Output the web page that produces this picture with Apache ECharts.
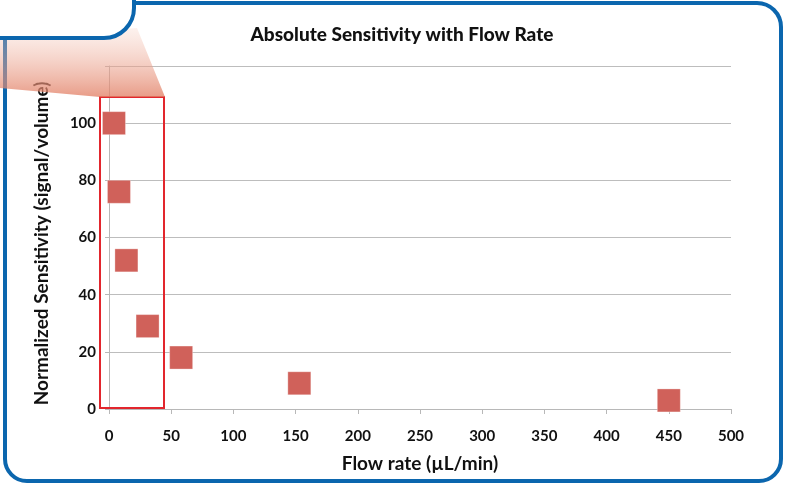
<!DOCTYPE html>
<html>
<head>
<meta charset="utf-8">
<script src="https://cdn.jsdelivr.net/npm/echarts@6/dist/echarts.min.js"></script>
<style>html,body{margin:0;padding:0;background:#fff}#c{width:785px;height:485px}</style>
</head>
<body>
<div id="c"></div>
<script>
var flowRates = [4, 8, 14, 31, 58, 153, 450];
var sensitivity = [100, 76, 52, 29, 18, 9, 3];
var xTicks = [0, 50, 100, 150, 200, 250, 300, 350, 400, 450, 500];
var yTicks = [0, 20, 40, 60, 80, 100];
var titleText = 'Absolute Sensitivity with Flow Rate';
var xName = 'Flow rate (\u00b5L/min)';
var yName = 'Normalized Sensitivity (signal/volume)';

var FONT = 'Lato';
var chart = echarts.init(document.getElementById('c'));
var points = flowRates.map(function (x, i) { return [x, sensitivity[i]]; });

chart.setOption({
  animation: false,
  backgroundColor: '#fff',
  title: {
    text: titleText, left: 397, top: 20, textAlign: 'center',
    textStyle: { fontFamily: FONT, fontWeight: 900, fontSize: 19, color: '#111' }
  },
  grid: { left: 109, right: 54, top: 66, bottom: 76, containLabel: false },
  xAxis: {
    type: 'value', min: 0, max: 500, interval: 50,
    name: xName, nameLocation: 'middle', nameGap: 45,
    nameTextStyle: { fontFamily: FONT, fontWeight: 'bold', fontSize: 19, color: '#111' },
    axisLine: { show: true, lineStyle: { color: '#b8b8b8', width: 1 } },
    axisTick: { show: true, length: 5, lineStyle: { color: '#b8b8b8' } },
    splitLine: { show: false },
    axisLabel: {
      margin: 20, fontFamily: FONT, fontWeight: 'bold', fontSize: 15, color: '#111',
      formatter: function (v) { return xTicks.indexOf(v) >= 0 ? String(v) : ''; }
    }
  },
  yAxis: {
    type: 'value', min: 0, max: 120, interval: 20,
    name: yName, nameLocation: 'middle', nameGap: 58, nameRotate: 90,
    nameTextStyle: { fontFamily: FONT, fontWeight: 'bold', fontSize: 19, color: '#111', padding: [0, 12, 0, 0] },
    axisLine: { show: true, lineStyle: { color: '#b8b8b8', width: 1 } },
    axisTick: { show: true, length: 4, lineStyle: { color: '#b8b8b8' } },
    splitLine: { show: true, lineStyle: { color: '#bdbdbd', width: 1 } },
    axisLabel: {
      margin: 13, fontFamily: FONT, fontWeight: 'bold', fontSize: 15, color: '#111',
      formatter: function (v) { return yTicks.indexOf(v) >= 0 ? String(v) : ''; }
    }
  },
  series: [{
    type: 'scatter', data: points, symbol: 'rect', symbolSize: 23,
    itemStyle: { color: '#d0615a', borderColor: 'rgba(255,255,255,0.3)', borderWidth: 1, opacity: 1 },
    z: 3
  }],
  graphic: [
    { type: 'rect', z: 10, shape: { x: 100, y: 97, width: 64, height: 311 },
      style: { fill: 'none', stroke: '#e2262d', lineWidth: 2 } },
    { type: 'rect', z: 15, shape: { x: 5, y: 3, width: 776, height: 478, r: [0, 24, 22, 22] },
      style: { fill: 'none', stroke: '#0b66ae', lineWidth: 4 } },
    { type: 'polygon', z: 20,
      shape: { points: [[0, 38], [137, 28], [165, 97], [100, 97], [0, 88]] },
      style: { fill: new echarts.graphic.LinearGradient(0, 0, 0, 1, [
        { offset: 0, color: 'rgba(245,200,185,0.25)' },
        { offset: 1, color: 'rgba(226,128,102,0.78)' }
      ]) } },
    { type: 'rect', z: 30, shape: { x: -10, y: -10, width: 144, height: 48, r: [0, 0, 30, 0] },
      style: { fill: '#fff', stroke: '#0b66ae', lineWidth: 4 } }
  ]
});
</script>
</body>
</html>
